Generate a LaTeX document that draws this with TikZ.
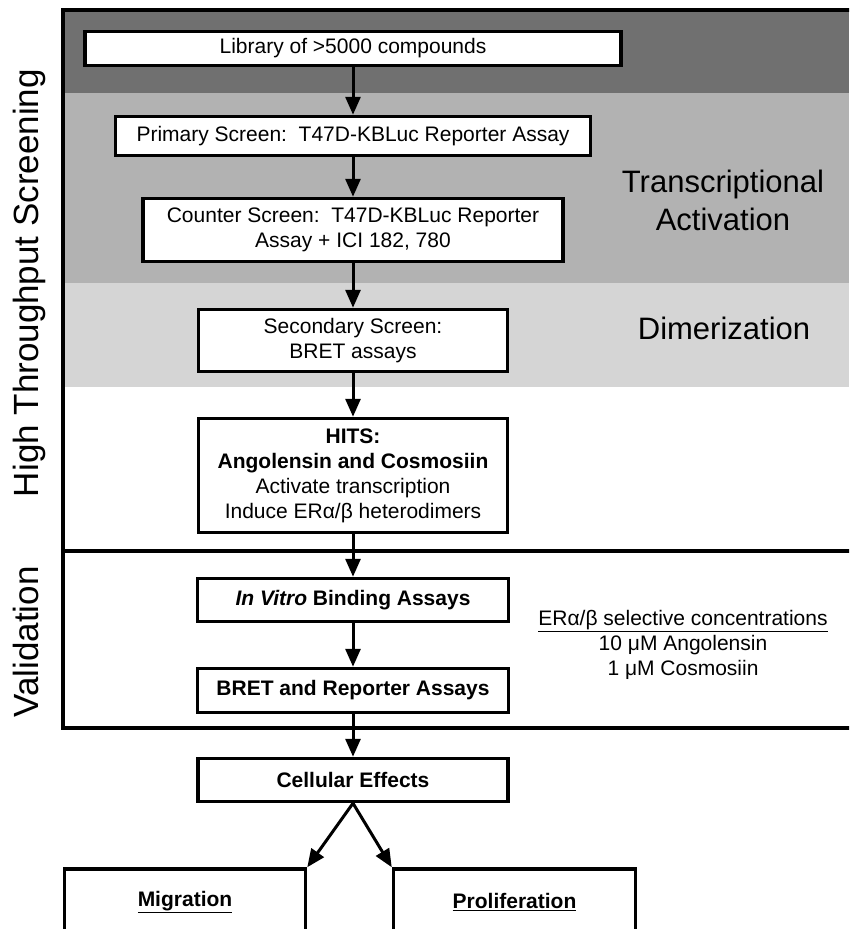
\documentclass[tikz,border=0pt]{standalone}
\usepackage{fontspec}
\setmainfont{Liberation Sans}
\usetikzlibrary{arrows.meta}
\definecolor{bandDark}{RGB}{112,112,112}
\definecolor{bandMid}{RGB}{178,178,178}
\definecolor{bandLight}{RGB}{213,213,213}
\newcommand{\boxfont}{\fontsize{21}{25}\selectfont}

\begin{document}
\begin{tikzpicture}[x=1pt,y=-1pt,>={Triangle[width=15pt,length=18pt]},
    stage/.style={draw,line width=3.5pt,fill=white,inner sep=2pt,align=center,font=\boxfont},
    link/.style={->,line width=3pt},
    side label/.style={rotate=90,anchor=base,font=\fontsize{35}{40}\selectfont},
    band label/.style={align=center,font=\fontsize{31}{38}\selectfont}]

    \useasboundingbox (0,0) rectangle (849,929);
    \clip (0,0) rectangle (849,929);

    % shaded bands
    \fill[bandDark] (63,10) rectangle (849,93);
    \fill[bandMid] (63,93) rectangle (849,283);
    \fill[bandLight] (63,283) rectangle (849,387);

    % frame
    \draw[line width=3.5pt] (860,10) -- (63,10) -- (63,728) -- (860,728);
    \draw[line width=3.5pt] (63,551) -- (860,551);

    \node[side label] (hts) at (38,283) {High Throughput Screening};
    \node[side label] (valid) at (38,642) {Validation};

    \node[stage, minimum width=536pt, minimum height=34pt] (lib) at (353,48.5) {Library of >5000 compounds};
    \node[stage, minimum width=475pt, minimum height=39pt] (prim) at (353,136) {Primary Screen:\ \ T47D-KBLuc Reporter Assay};
    \node[stage, minimum width=420pt, minimum height=63pt] (counter) at (353,230) {Counter Screen:\ \ T47D-KBLuc Reporter\\Assay + ICI 182, 780};
    \node[stage, minimum width=309pt, minimum height=62pt] (second) at (353,340.5) {Secondary Screen:\\BRET assays};
    \node[stage, minimum width=309pt, minimum height=114pt] (hits) at (353,475.5) {\textbf{HITS:}\\\textbf{Angolensin and Cosmosiin}\\Activate transcription\\Induce ERα/β heterodimers};
    \node[stage, minimum width=311pt, minimum height=43pt] (invitro) at (353,600) {\textbf{\textit{In Vitro} Binding Assays}};
    \node[stage, minimum width=311pt, minimum height=44pt] (bret) at (353,690.5) {\textbf{BRET and Reporter Assays}};
    \node[stage, minimum width=310pt, minimum height=43pt] (cells) at (353,780) {\textbf{Cellular Effects}};
    \node[stage, minimum width=241pt, minimum height=66pt] (migr) at (185,902) {\textbf{\underline{Migration}}};
    \node[stage, minimum width=242pt, minimum height=66pt] (prolif) at (514.5,902) {\textbf{\underline{Proliferation}}};

    \node[band label] (trans) at (723,200) {Transcriptional\\Activation};
    \node[band label] (dimer) at (724,328) {Dimerization};
    \node[align=center, font=\boxfont] (conc) at (683,645) {\underline{ERα/β selective concentrations}\\10 μM Angolensin\\1 μM Cosmosiin};

    \draw[link] (lib) to (prim);
    \draw[link] (prim) to (counter);
    \draw[link] (counter) to (second);
    \draw[link] (second) to (hits);
    \draw[link] (hits) to (invitro);
    \draw[link] (invitro) to (bret);
    \draw[link] (bret) to (cells);
    \draw[link] (cells.south) to (migr.north east);
    \draw[link] (cells.south) to (prolif.north west);

\end{tikzpicture}
\end{document}
